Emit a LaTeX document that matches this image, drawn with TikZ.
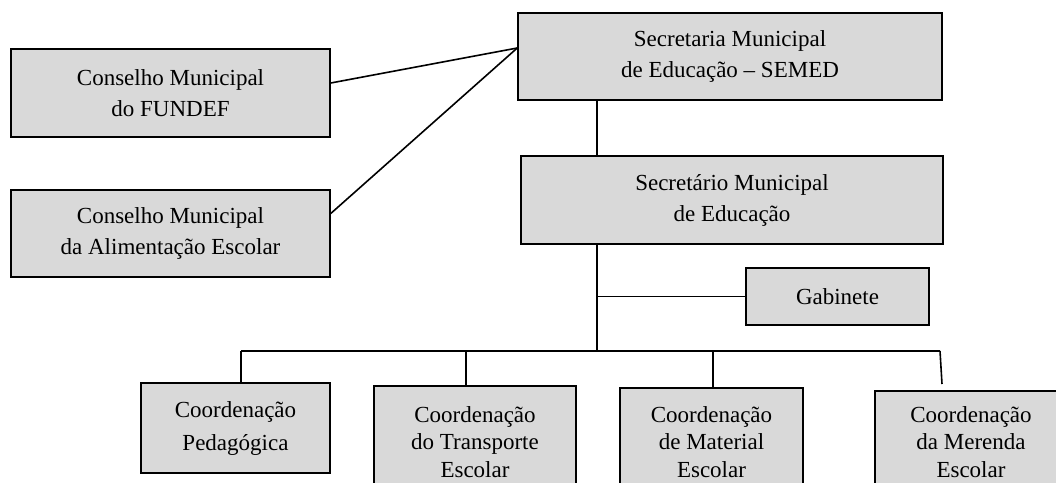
\documentclass[tikz,border=0pt]{standalone}
\usepackage{fontspec}
\setmainfont{Liberation Serif}
\begin{document}
\begin{tikzpicture}[x=1pt,y=-1pt,
  box/.style={draw=black, line width=1.5pt, fill=black!15, align=center, inner sep=0pt,
    font=\fontsize{23}{31}\selectfont},
  lowbox/.style={box, font=\fontsize{23}{27.5}\selectfont},
  link/.style={draw=black, line width=1.6pt}]
\useasboundingbox (0,0) rectangle (1056,482);
\clip (0,0) rectangle (1056,482);
\node[box, minimum width=319pt, minimum height=88pt] (fundef) at (170.5,93) {Conselho Municipal\\do FUNDEF};
\node[box, minimum width=319pt, minimum height=87pt] (alim) at (170.5,233.5) {Conselho Municipal\\da Alimentação Escolar};
\node[box, minimum width=424pt, minimum height=87pt] (semed) at (730,56.5) {Secretaria Municipal\\de Educação – SEMED};
\node[box, minimum width=422pt, minimum height=88pt] (sec) at (732,200) {Secretário Municipal\\de Educação};
\node[box, minimum width=183pt, minimum height=57pt] (gab) at (837.5,296.5) {Gabinete};
\node[box, minimum width=189pt, minimum height=90pt, font=\fontsize{23}{33}\selectfont] (ped) at (235.5,428) {Coordenação\\Pedagógica};
\node[lowbox, minimum width=202pt, minimum height=112pt] (trans) at (475,442) {Coordenação\\do Transporte\\Escolar};
\node[lowbox, minimum width=183pt, minimum height=108pt] (mat) at (711.5,442) {Coordenação\\de Material\\Escolar};
\node[lowbox, minimum width=192pt, minimum height=102pt] (mer) at (971,442) {Coordenação\\da Merenda\\Escolar};
\coordinate (bus) at (597,351);
\coordinate (busL) at (241,351);
\coordinate (busR) at (940,351);
\coordinate (dT) at (466,351);
\coordinate (dM) at (713,351);
\coordinate (dR) at (942,384);
\coordinate (hub) at ([yshift=8.5pt]semed.west);
\draw[link] ([yshift=10pt]fundef.east) -- (hub);
\draw[link] ([yshift=20pt]alim.east) -- (hub);
\draw[link] (bus |- semed.south) -- (bus |- sec.north);
\draw[link] (bus |- sec.south) -- (bus);
\draw[link] (bus |- gab.west) -- (gab.west);
\draw[link] (busL) -- (busR);
\draw[link] (busL) -- (busL |- ped.north);
\draw[link] (dT) -- (dT |- trans.north);
\draw[link] (dM) -- (dM |- mat.north);
\draw[link] (busR) -- (dR);
\end{tikzpicture}
\end{document}
